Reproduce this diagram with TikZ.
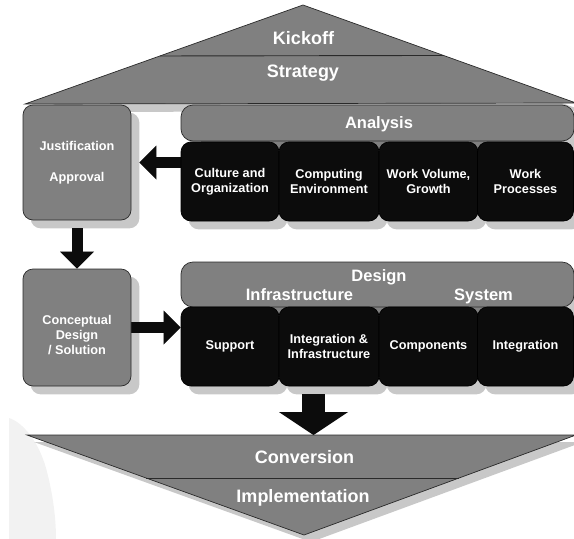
\documentclass[tikz,border=0pt]{standalone}
\usepackage{fontspec}
\setmainfont{Liberation Sans}
\usetikzlibrary{arrows.meta,calc}
\pgfdeclarelayer{shadowlayer}
\pgfdeclarelayer{arrowlayer}
\pgfsetlayers{shadowlayer,arrowlayer,main}
\definecolor{boxgray}{HTML}{808080}
\definecolor{boxblack}{HTML}{0C0C0C}
\definecolor{shadowgray}{HTML}{C8C8C8}
\definecolor{blobgray}{HTML}{F2F2F2}
\definecolor{edgegray}{HTML}{2A2A2A}
\tikzset{
  smalltext/.style={text=white, font=\bfseries\fontsize{12.7}{15}\selectfont, align=center},
  graybox/.style={fill=boxgray, draw=edgegray, line width=0.7pt, rounded corners=10pt, inner sep=0pt, smalltext},
  blackbox/.style={fill=boxblack, draw=black, line width=0.7pt, rounded corners=10pt, inner sep=0pt, minimum height=79pt, smalltext},
  barbox/.style={fill=boxgray, draw=edgegray, line width=0.7pt, rounded corners=12pt, inner sep=0pt},
  bigtext/.style={text=white, font=\bfseries\fontsize{18}{21}\selectfont, inner sep=0pt, anchor=base},
  midtext/.style={text=white, font=\bfseries\fontsize{16.5}{19}\selectfont, inner sep=0pt, anchor=base},
  trishape/.style={fill=boxgray, draw=edgegray, line width=0.7pt, line join=miter},
  divider/.style={draw=edgegray, line width=0.9pt},
  shade/.style={fill=shadowgray},
  blockarrow/.style={draw=#1, line width=11pt, -{Triangle[width=34pt,length=17pt,line width=0pt]}},
  bigblockarrow/.style={draw=#1, line width=23pt, -{Triangle[width=69pt,length=23pt,line width=0pt]}},
}
\begin{document}
\begin{tikzpicture}[x=1pt,y=-1pt]
\useasboundingbox (0,0) rectangle (574,539);
% outline points of the two triangles
\coordinate (tL) at (25,104);
\coordinate (tA) at (303,5);
\coordinate (tR) at (576,103);
\coordinate (bL) at (27,435);
\coordinate (bR) at (576,435);
\coordinate (bA) at (304,535);

% top triangle
\draw[trishape] (tL) -- (tA) -- (tR) -- cycle;
\draw[divider] ($(tA)!0.515!(tL)$) -- ($(tA)!0.515!(tR)$);
\node[bigtext] (kick) at (303.5,44) {Kickoff};
\node[bigtext] (strat) at (303,77) {Strategy};

% bottom triangle
\draw[trishape] (bL) -- (bR) -- (bA) -- cycle;
\draw[divider] ($(bA)!0.57!(bL)$) -- ($(bA)!0.57!(bR)$);
\node[bigtext] (conv) at (304.5,463) {Conversion};
\node[bigtext] (impl) at (303,502) {Implementation};

% left column
\node[graybox, minimum width=108pt, minimum height=115pt] (jb) at (77,162.5) {Justification\\[16pt]Approval};
\node[graybox, minimum width=108pt, minimum height=117pt] (cb) at (77,327.5) {};
\node[smalltext, inner sep=0pt] (cbt) at (77,335) {Conceptual\\Design\\/ Solution};

% analysis
\node[barbox, minimum width=393pt, minimum height=36pt] (an) at (377.5,123) {};
\node[midtext] (ant) at (379,128) {Analysis};
\node[blackbox, minimum width=98pt] (a1) at (230,181.5) {Culture and\\Organization};
\node[blackbox, minimum width=100pt] (a2) at (329,181.5) {Computing\\Environment};
\node[blackbox, minimum width=99pt] (a3) at (428.5,181.5) {Work Volume,\\Growth};
\node[blackbox, minimum width=96pt] (a4) at (525.5,181.5) {Work\\Processes};

% design
\node[barbox, minimum width=393pt, minimum height=45pt] (ds) at (377.5,284.5) {};
\node[midtext] (dst) at (379,281) {Design};
\node[midtext] (dit) at (299.5,300) {Infrastructure};
\node[midtext] (dsy) at (483.5,300) {System};
\node[blackbox, minimum width=98pt] (d1) at (230,346.5) {Support};
\node[blackbox, minimum width=100pt] (d2) at (329,346.5) {Integration \&\\Infrastructure};
\node[blackbox, minimum width=99pt] (d3) at (428.5,346.5) {Components};
\node[blackbox, minimum width=96pt] (d4) at (525.5,346.5) {Integration};

% arrows end points
\coordinate (la1) at (a1.west |- jb.east);
\coordinate (la2) at ($(jb.east)+(8,0)$);
\coordinate (da1) at ($(jb.south)+(0,8)$);
\coordinate (ra2) at (d1.west |- cb.east);
\coordinate (ba1) at ($(d2.south)+(-15.5,8)$);
\coordinate (ba2) at (ba1 |- bL);

\begin{pgfonlayer}{arrowlayer}
  \draw[blockarrow=boxblack] (la1) -- (la2);
  \draw[blockarrow=boxblack] (da1) -- (cb.north);
  \draw[blockarrow=boxblack] (cb.east) -- (ra2);
  \draw[bigblockarrow=boxblack] (ba1) -- (ba2);
  % bar colour behind the notches between the black boxes
  \fill[boxgray] ($(an.south west)+(20,-5)$) rectangle ($(an.south east)+(-12,7)$);
  \fill[boxgray] ($(ds.south west)+(20,-5)$) rectangle ($(ds.south east)+(-12,7)$);
\end{pgfonlayer}

\begin{pgfonlayer}{shadowlayer}
  \fill[blobgray] (9,539) -- (9,418) .. controls (22,422) and (38,440) .. (46,468) .. controls (52,490) and (56,515) .. (56,539) -- cycle;
  \fill[shade] ([shift={(8,8)}]tL) -- ([shift={(8,8)}]tA) -- ([shift={(8,8)}]tR) -- cycle;
  \fill[shade] ([shift={(7,7)}]bL) -- ([shift={(7,7)}]bR) -- ([shift={(7,7)}]bA) -- cycle;
  \foreach \n in {jb,cb,a1,a2,a3,a4,d1,d2,d3,d4}
    \fill[shade, rounded corners=10pt] ([shift={(8,8)}]\n.north west) rectangle ([shift={(8,8)}]\n.south east);
  \foreach \n in {an,ds}
    \fill[shade, rounded corners=12pt] ([shift={(8,8)}]\n.north west) rectangle ([shift={(8,8)}]\n.south east);
  \draw[blockarrow=shadowgray, xshift=7pt, yshift=-7pt] (la1) -- (la2);
  \draw[blockarrow=shadowgray, xshift=7pt, yshift=-7pt] (da1) -- (cb.north);
  \draw[blockarrow=shadowgray, xshift=7pt, yshift=-7pt] (cb.east) -- (ra2);
  \draw[bigblockarrow=shadowgray, xshift=7pt, yshift=-7pt] (ba1) -- (ba2);
\end{pgfonlayer}
\end{tikzpicture}
\end{document}
